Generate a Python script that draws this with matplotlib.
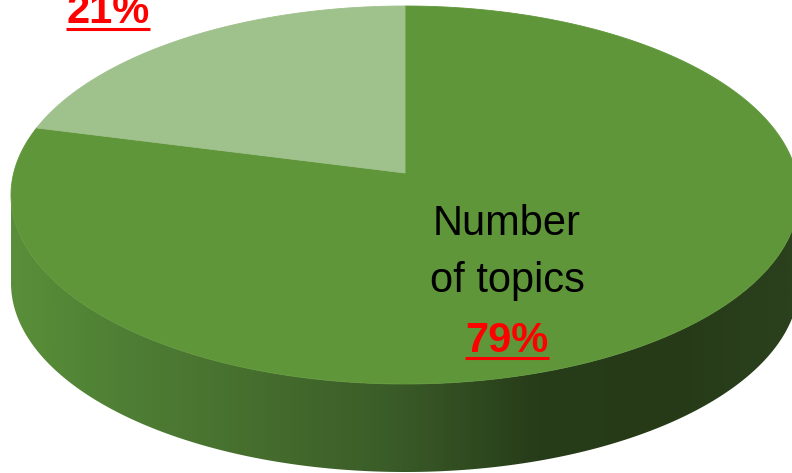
import numpy as np
import matplotlib
matplotlib.use("Agg")
import matplotlib.pyplot as plt
from matplotlib.patches import Polygon
from matplotlib.colors import LinearSegmentedColormap

# data (Excel 3D pie, 79% / 21%)
categories = ["Number of topics", ""]
shares = [79, 21]
pct_labels = ["79%", "21%"]
slice_colors = ["#60963a", "#9fc18c"]

W, H = 792, 473
cx, cy, a, b = 405, 195, 394, 189   # top rim ellipse in pixels
depth = 88                          # height of the cylinder side
tilt = 0.1164                       # perspective shift of pie centre

FONT = ["Liberation Sans", "DejaVu Sans"]


def rim(phi_deg, r=1.0):
    # map angle on the flat pie to the perspective ellipse
    phi = np.radians(phi_deg)
    u, v = r * np.cos(phi), r * np.sin(phi)
    den = 1 + tilt * v
    X = u * np.sqrt(1 - tilt ** 2) / den
    Y = (v + tilt) / den
    return cx + a * X, cy - b * Y


fig = plt.figure(figsize=(7.92, 4.73), dpi=100)
ax = fig.add_axes([0, 0, 1, 1])

# side of the cylinder with a left-to-right shading
t = np.linspace(np.pi, 2 * np.pi, 300)
ex = cx + a * np.cos(t)
ey = cy - b * np.sin(t)
side = Polygon(np.column_stack([np.concatenate([ex, ex[::-1]]),
                                np.concatenate([ey, ey[::-1] + depth])]),
               closed=True, facecolor="none", edgecolor="none")
ax.add_patch(side)
side_cmap = LinearSegmentedColormap.from_list("side", [
    (0.0, "#5b8f3b"), (0.05, "#568b37"), (0.15, "#4f7f35"),
    (0.32, "#466e2e"), (0.5, "#3a5b28"), (0.68, "#273c19"),
    (0.85, "#263a18"), (1.0, "#2b411d")])
grad = np.tile(np.linspace(0, 1, W), (H, 1))
im = ax.imshow(grad, extent=(0, W, H, 0), cmap=side_cmap, aspect="auto",
               interpolation="bilinear")
im.set_clip_path(side)

# top face slices, clockwise from 12 o'clock
start = 90.0
apex = rim(0, 0)
for share, col in zip(shares, slice_colors):
    end = start - 360.0 * share / 100.0
    px, py = rim(np.linspace(start, end, 300))
    pts = np.column_stack([np.r_[apex[0], px], np.r_[apex[1], py]])
    ax.add_patch(Polygon(pts, closed=True, facecolor=col, edgecolor=col,
                         linewidth=0.6, zorder=3))
    start = end

ax.set_xlim(0, W)
ax.set_ylim(H, 0)
ax.axis("off")

# labels
renderer = fig.canvas.get_renderer()


def underline(txt, y):
    bb = txt.get_window_extent(renderer)
    x0, _ = ax.transData.inverted().transform((bb.x0, bb.y0))
    x1, _ = ax.transData.inverted().transform((bb.x1, bb.y0))
    ax.plot([x0, x1], [y, y], color="#ff0000", lw=2.2,
            solid_capstyle="butt", zorder=5)


ax.text(507, 235, "Number", ha="center", va="baseline", fontsize=30,
        family=FONT, color="black", zorder=5)
ax.text(507, 292, "of topics", ha="center", va="baseline", fontsize=30,
        family=FONT, color="black", zorder=5)
t79 = ax.text(507, 352, pct_labels[0], ha="center", va="baseline",
              fontsize=30, family=FONT, fontweight="bold", color="#ff0000",
              zorder=5)
underline(t79, 358)

t21 = ax.text(108, 23, pct_labels[1], ha="center", va="baseline",
              fontsize=30, family=FONT, fontweight="bold", color="#ff0000",
              zorder=5)
underline(t21, 29)

fig.savefig("out.png", dpi=100, facecolor="white")
